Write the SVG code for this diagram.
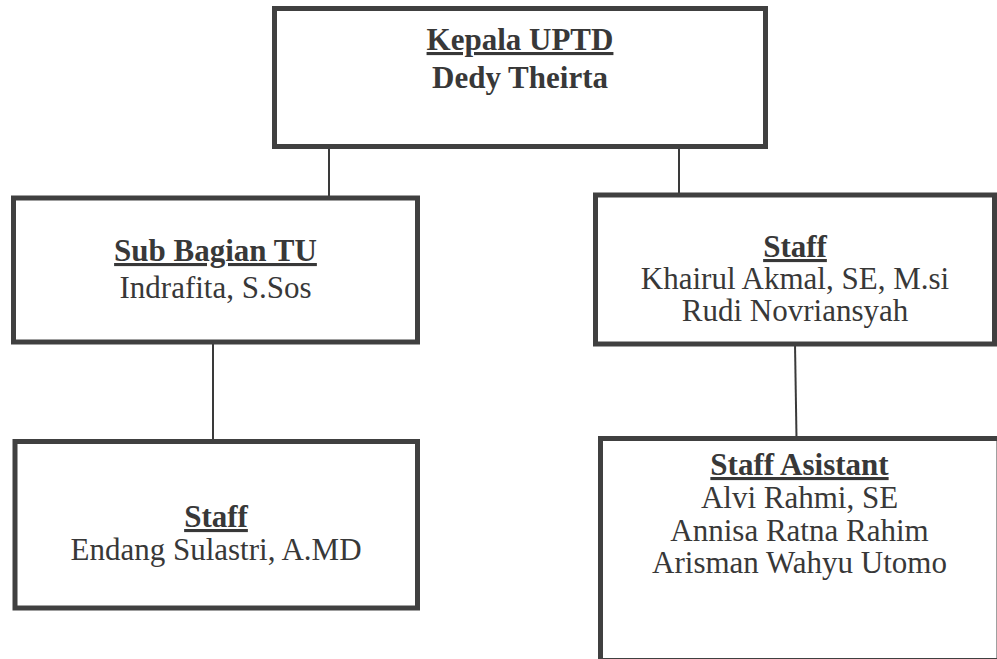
<svg xmlns="http://www.w3.org/2000/svg" width="997" height="659" viewBox="0 0 997 659">
<style>
.box{fill:#ffffff;stroke:#404040;stroke-width:5}
.conn{stroke:#3a3a3a;stroke-width:2;fill:none}
text{font-family:"Liberation Serif","Times New Roman",serif;font-size:31px;fill:#383838;text-anchor:middle}
.h{font-weight:bold;text-decoration:underline}
.b{font-weight:bold}
</style>
<rect width="997" height="659" fill="#ffffff"/>
<g id="connectors">
<line class="conn" x1="329" y1="146" x2="329" y2="198"/>
<line class="conn" x1="679" y1="146" x2="679" y2="195"/>
<line class="conn" x1="213" y1="342" x2="213" y2="441"/>
<line class="conn" x1="795" y1="344" x2="796.5" y2="438"/>
</g>
<g id="kepala">
<rect class="box" x="274.5" y="8.5" width="491" height="138"/>
<text class="h" x="520" y="50">Kepala UPTD</text>
<text class="b" x="520" y="88">Dedy Theirta</text>
</g>
<g id="subbagian">
<rect class="box" x="13.5" y="198" width="404" height="144"/>
<text class="h" x="215.5" y="261">Sub Bagian TU</text>
<text x="215.5" y="298">Indrafita, S.Sos</text>
</g>
<g id="staff1">
<rect class="box" x="595.5" y="195" width="399" height="149"/>
<text class="h" x="795" y="257">Staff</text>
<text x="795" y="289">Khairul Akmal, SE, M.si</text>
<text x="795" y="321">Rudi Novriansyah</text>
</g>
<g id="staff2">
<rect class="box" x="15" y="441.5" width="402.5" height="166.5"/>
<text class="h" x="216" y="527">Staff</text>
<text x="216" y="560">Endang Sulastri, A.MD</text>
</g>
<g id="asistant">
<rect class="box" x="600.5" y="438.5" width="398.5" height="222"/>
<text class="h" x="799.5" y="475">Staff Asistant</text>
<text x="799.5" y="508">Alvi Rahmi, SE</text>
<text x="799.5" y="541">Annisa Ratna Rahim</text>
<text x="799.5" y="573">Arisman Wahyu Utomo</text>
</g>
</svg>
